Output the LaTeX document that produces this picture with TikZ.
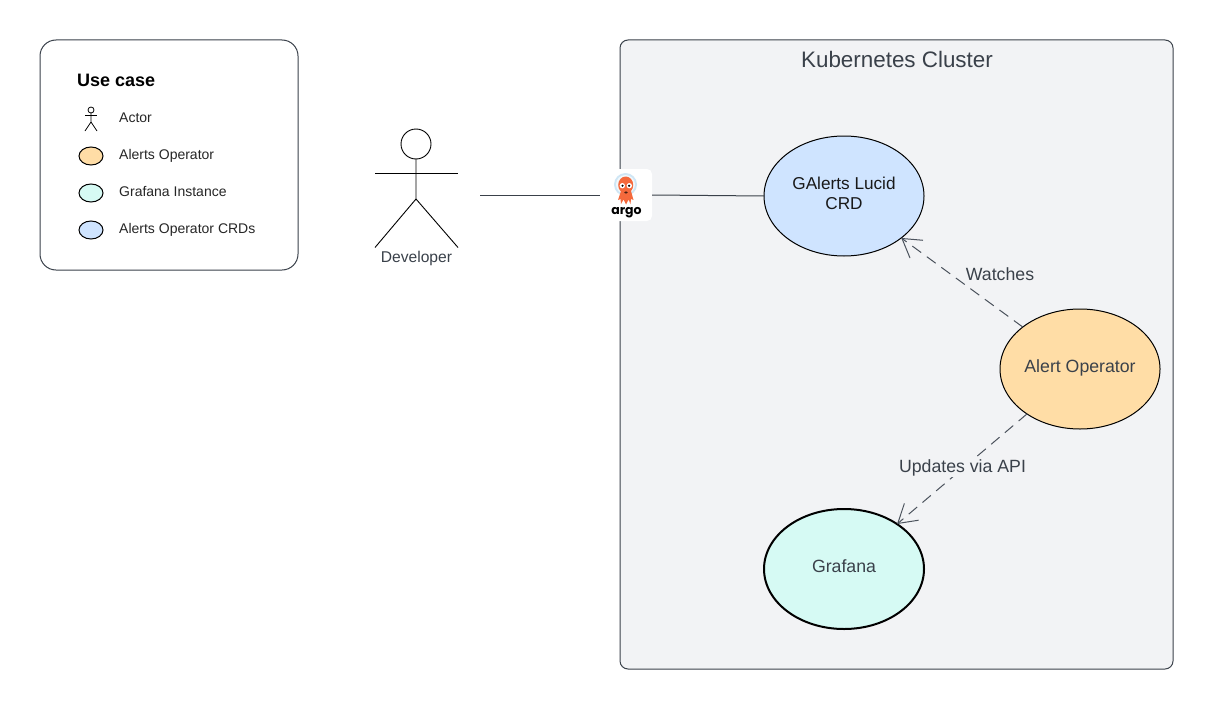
\documentclass[tikz,border=0pt]{standalone}
\usepackage{fontspec}
\setmainfont{Liberation Sans}
\newfontfamily\argofont{Poppins}
\usetikzlibrary{arrows.meta,shapes.geometric}
\definecolor{ink}{HTML}{3A414A}
\definecolor{arrowink}{HTML}{4C535D}
\definecolor{clusterbg}{HTML}{F2F3F5}
\definecolor{orangefill}{HTML}{FFDDA6}
\definecolor{greenfill}{HTML}{D6FAF4}
\definecolor{bluefill}{HTML}{CFE4FF}
\definecolor{argoorange}{HTML}{F4693C}
\definecolor{argohelmet}{HTML}{CFE6F5}
\tikzset{
  x=1pt,y=-1pt,
  bigell/.style={ellipse,draw=black,line width=1pt,minimum width=160pt,minimum height=120pt,inner sep=0pt,outer sep=0pt,align=center,font=\fontsize{17.7}{20}\selectfont,text=ink},
  smallell/.style={ellipse,draw=black,line width=1pt,minimum width=24pt,minimum height=18pt,inner sep=0pt,outer sep=0pt},
  legendtext/.style={anchor=west,inner sep=0pt,font=\fontsize{14}{16}\selectfont,text=black!85},
  edgelabel/.style={inner sep=1pt,font=\fontsize{17.7}{20}\selectfont,text=ink},
  dep/.style={draw=arrowink,line width=1pt,dash pattern=on 11pt off 7pt,-{Straight Barb[length=18pt,width=22pt,line width=1pt]}},
  plainline/.style={draw=ink,line width=1pt},
  actorline/.style={draw=black,line width=0.9pt},
}
\begin{document}
\begin{tikzpicture}
\useasboundingbox (0,0) rectangle (1214,709);
\fill[white] (0,0) rectangle (1214,709);

% legend
\node[draw=ink,line width=1pt,rounded corners=16pt,fill=white,minimum width=258pt,minimum height=230pt,inner sep=0pt,outer sep=0pt,anchor=north west] (legend) at (40,40) {};
\node[anchor=west,inner sep=0pt,font=\bfseries\fontsize{18}{20}\selectfont] (legendtitle) at (77,80.5) {Use case};
\node[circle,draw=black,line width=0.8pt,minimum size=6pt,inner sep=0pt,outer sep=0pt] (minihead) at (91,110) {};
\coordinate (minihip) at (91,122);
\draw[line width=0.8pt] (minihead.south) -- (minihip) -- (85,131);
\draw[line width=0.8pt] (minihip) -- (97,131);
\draw[line width=0.8pt] (85,115.5) -- (97,115.5);
\node[legendtext] (lactor) at (119,118) {Actor};
\node[smallell,fill=orangefill] (lo) at (91,156) {};
\node[legendtext] (lotext) at (119,155.5) {Alerts Operator};
\node[smallell,fill=greenfill] (lg) at (91,193) {};
\node[legendtext] (lgtext) at (119,192) {Grafana Instance};
\node[smallell,fill=bluefill] (lb) at (91,230) {};
\node[legendtext] (lbtext) at (119,229.5) {Alerts Operator CRDs};

% developer
\node[circle,actorline,minimum size=30pt,inner sep=0pt,outer sep=0pt] (devhead) at (416,144) {};
\coordinate (devhip) at (416,199);
\coordinate (devarml) at (375,173.5);
\coordinate (devarmr) at (458,173.5);
\coordinate (devlegl) at (375,247.5);
\coordinate (devlegr) at (458,247.5);
\draw[actorline] (devhead.south) -- (devhip) -- (devlegl);
\draw[actorline] (devhip) -- (devlegr);
\draw[actorline] (devarml) -- (devarmr);
\node[inner sep=0pt,font=\fontsize{15.6}{18}\selectfont,text=ink] (devlabel) at (416.5,258) {Developer};

% cluster
\node[draw=ink,line width=1pt,rounded corners=8pt,fill=clusterbg,minimum width=553pt,minimum height=629pt,inner sep=0pt,outer sep=0pt,anchor=north west] (cluster) at (620,40) {};
\node[inner sep=0pt,font=\fontsize{22.4}{25}\selectfont,text=ink] (clustertitle) at (897,59.5) {Kubernetes Cluster};

% ellipses
\node[bigell,fill=bluefill,text=black!90,text depth=6pt,font=\fontsize{17.2}{20}\selectfont] (crd) at (844,196) {GAlerts Lucid\\CRD};
\node[bigell,fill=orangefill,text depth=5.5pt] (op) at (1080,369) {Alert Operator};
\node[bigell,fill=greenfill,line width=2pt,text depth=5.5pt] (graf) at (844,569) {Grafana};

% argo icon
\node[fill=white,rounded corners=5pt,minimum width=40pt,minimum height=52pt,inner sep=0pt,outer sep=0pt] (argo) at (632,195) {};
\coordinate (devend) at (480,195);
\coordinate (devstop) at (600,195);
\draw[plainline] (devend) -- (devstop);
\draw[plainline] (argo.east) -- (crd.west);
\fill[argohelmet] (625.5,184.5) circle (11.5);
\fill[white!70!argohelmet] (625.5,184.5) circle (9.5);
\fill[argoorange] (625.7,185) ellipse (7.5 and 8.5);
\fill[argoorange] (621,191) -- (631,191) -- (633.5,200) -- (631,199) -- (630.5,204) -- (628.5,199.5) -- (626,204.5) -- (623.5,199.5) -- (621,204) -- (620.5,199) -- (618,200) -- cycle;
\fill[white] (622.3,185.7) circle (2.7);
\fill[white] (629.3,185.7) circle (2.7);
\fill[black] (622.5,185.7) circle (1.2);
\fill[black] (629.1,185.7) circle (1.2);
\fill[black!70!argoorange] (626,192.5) ellipse (1.8 and 1.2);
\node[anchor=base,inner sep=0pt,font=\argofont\bfseries\fontsize{12.5}{14}\selectfont,text=black] (argotext) at (626.5,214) {argo};

% dependencies
\draw[dep] (op) -- (crd);
\draw[dep] (op) -- (graf);
\node[edgelabel] (watches) at (1000,274.5) {Watches};
\node[edgelabel,fill=clusterbg] (updates) at (962.5,468) {Updates via API};
\end{tikzpicture}
\end{document}
